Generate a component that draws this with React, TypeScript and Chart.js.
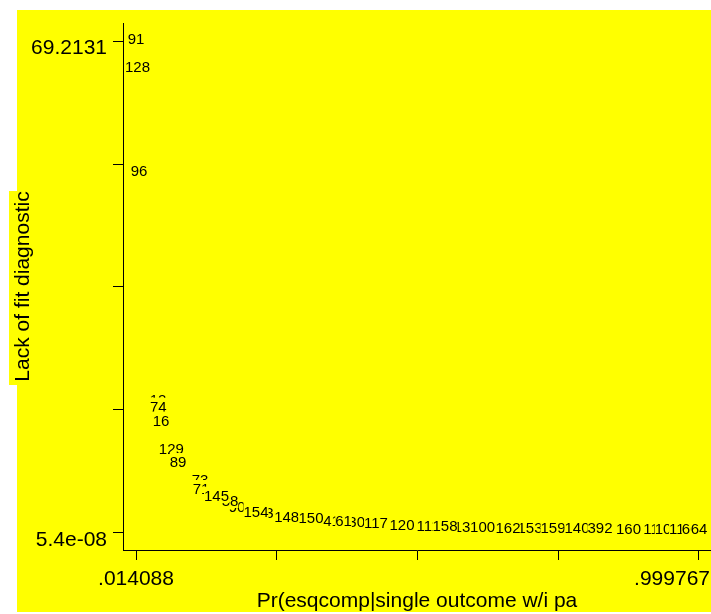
import React, { useEffect, useRef } from 'react';
import { Chart, registerables } from 'chart.js';

Chart.register(...registerables);

// Marker labels (observation ids), in the order they are drawn
const markerLabels = [
  '91', '128', '96', '12', '74', '16', '129', '89', '73', '71',
  '90', '38', '145', '143', '154', '148', '150', '41', '130', '61',
  '117', '120', '111', '13', '158', '100', '153', '162', '159', '140',
  '392', '160', '11', '10', '116', '66', '64',
];

// Pr(esqcomp|single outcome w/i pa)
const xValues = [
  0.014088, 0.01671, 0.01934, 0.0526, 0.05313, 0.05786, 0.07589, 0.08762, 0.12614, 0.12789,
  0.19092, 0.17866, 0.15503, 0.23294, 0.22418, 0.27793, 0.32048, 0.35637, 0.39314, 0.37738,
  0.43428, 0.4798, 0.52532, 0.58485, 0.55509, 0.62086, 0.70391, 0.66539, 0.74417, 0.78619,
  0.82646, 0.87636, 0.91575, 0.93676, 0.96827, 0.98403, 0.999767,
];

// Lack of fit diagnostic
const yValues = [
  69.2131, 65.27, 50.74, 18.43, 17.49, 15.54, 11.54, 9.71, 7.17, 5.91,
  3.38, 4.29, 4.97, 2.6, 2.72, 2.01, 1.83, 1.48, 1.27, 1.41,
  1.2, 0.84, 0.77, 0.63, 0.77, 0.56, 0.47, 0.49, 0.45, 0.43,
  0.41, 0.39, 0.37, 0.35, 0.33, 0.31, 0.29,
];

const xTickValues = [0.014088, 0.260508, 0.506928, 0.753347, 0.999767];
const xTickLabels = ['.014088', '', '', '', '.999767'];
const yTickValues = [5.4e-8, 17.3033, 34.6066, 51.9098, 69.2131];
const yTickLabels = ['5.4e-08', '', '', '', '69.2131'];

const xTitle = 'Pr(esqcomp|single outcome w/i pa';
const yTitle = 'Lack of fit diagnostic';

const X_MIN = -0.008672;
const X_MAX = 1.020778;
const Y_MIN = -2.39151;
const Y_MAX = 71.7453;

const FONT = '"Liberation Sans", Arial, Helvetica, sans-serif';
const YELLOW = '#ffff00';

const stataPlugin = {
  id: 'stataLook',
  beforeDraw(chart: any) {
    const ctx = chart.ctx;
    ctx.save();
    ctx.fillStyle = YELLOW;
    ctx.fillRect(17, 10, 694, 602);
    ctx.fillRect(9, 191, 30, 194);
    ctx.restore();
  },
  afterDatasetsDraw(chart: any) {
    const ctx = chart.ctx;
    const xs = chart.scales.x;
    const ys = chart.scales.y;
    ctx.save();
    ctx.font = `15px ${FONT}`;
    ctx.textAlign = 'left';
    ctx.textBaseline = 'alphabetic';
    markerLabels.forEach((t, i) => {
      const px = xs.getPixelForValue(xValues[i]);
      const py = ys.getPixelForValue(yValues[i]);
      const w = ctx.measureText(t).width;
      const cy = py - 2;
      ctx.fillStyle = YELLOW;
      ctx.fillRect(px - w / 2, cy - 9, w, 16.5);
      ctx.fillStyle = '#000';
      ctx.fillText(t, px - w / 2, cy + 5.4);
    });
    ctx.restore();
  },
  afterDraw(chart: any) {
    const ctx = chart.ctx;
    const xs = chart.scales.x;
    const ys = chart.scales.y;
    const area = chart.chartArea;
    ctx.save();
    ctx.fillStyle = '#000';
    ctx.font = `21px ${FONT}`;
    ctx.textBaseline = 'alphabetic';
    // y tick labels
    ctx.textAlign = 'right';
    yTickValues.forEach((v, i) => {
      const lab = yTickLabels[i];
      if (!lab) return;
      const p = ys.getPixelForValue(v);
      ctx.fillText(lab, ys.right - 16, p + 13);
    });
    // x tick labels
    ctx.textAlign = 'left';
    xTickValues.forEach((v, i) => {
      const lab = xTickLabels[i];
      if (!lab) return;
      const p = xs.getPixelForValue(v);
      const w = ctx.measureText(lab).width;
      let left = p - w / 2;
      if (left + w > chart.width - 1) left = chart.width - 1 - w;
      ctx.fillText(lab, left, xs.top + 35);
    });
    // x title
    ctx.textAlign = 'center';
    ctx.fillText(xTitle, (area.left + area.right) / 2, 607);
    // y title
    ctx.translate(29, (area.top + area.bottom) / 2);
    ctx.rotate(-Math.PI / 2);
    ctx.fillText(yTitle, 0, 0);
    ctx.restore();
  },
};

export default function App() {
  const canvasRef = useRef<HTMLCanvasElement | null>(null);

  useEffect(() => {
    if (!canvasRef.current) return;
    const axisGrid = {
      display: true,
      drawOnChartArea: false,
      drawTicks: true,
      tickLength: 10,
      color: '#000',
      tickColor: '#000',
      lineWidth: 1,
    };
    const chart = new Chart(canvasRef.current, {
      type: 'scatter',
      data: {
        datasets: [
          {
            data: xValues.map((x, i) => ({ x, y: yValues[i] })),
            pointRadius: 0,
            pointHoverRadius: 0,
            showLine: false,
          },
        ],
      },
      options: {
        animation: false,
        responsive: false,
        devicePixelRatio: 1,
        events: [],
        layout: { padding: { top: 23, left: 0, right: 0, bottom: 0 } },
        plugins: { legend: { display: false }, tooltip: { enabled: false }, title: { display: false } },
        scales: {
          x: {
            type: 'linear',
            min: X_MIN,
            max: X_MAX,
            afterBuildTicks: (s: any) => {
              s.ticks = xTickValues.map((v) => ({ value: v }));
            },
            afterFit: (s: any) => {
              s.height = 64;
              s.paddingLeft = 0;
              s.paddingRight = 0;
            },
            ticks: { display: false },
            grid: axisGrid,
            border: { display: true, color: '#000', width: 1 },
          },
          y: {
            type: 'linear',
            min: Y_MIN,
            max: Y_MAX,
            afterBuildTicks: (s: any) => {
              s.ticks = yTickValues.map((v) => ({ value: v }));
            },
            afterFit: (s: any) => {
              s.width = 123;
              s.paddingTop = 0;
              s.paddingBottom = 0;
            },
            ticks: { display: false },
            grid: axisGrid,
            border: { display: true, color: '#000', width: 1 },
          },
        },
      } as any,
      plugins: [stataPlugin],
    });
    return () => chart.destroy();
  }, []);

  return (
    <div style={{ position: 'fixed', left: 0, top: 0, width: 711, height: 614 }}>
      <canvas ref={canvasRef} width={711} height={614} />
    </div>
  );
}
